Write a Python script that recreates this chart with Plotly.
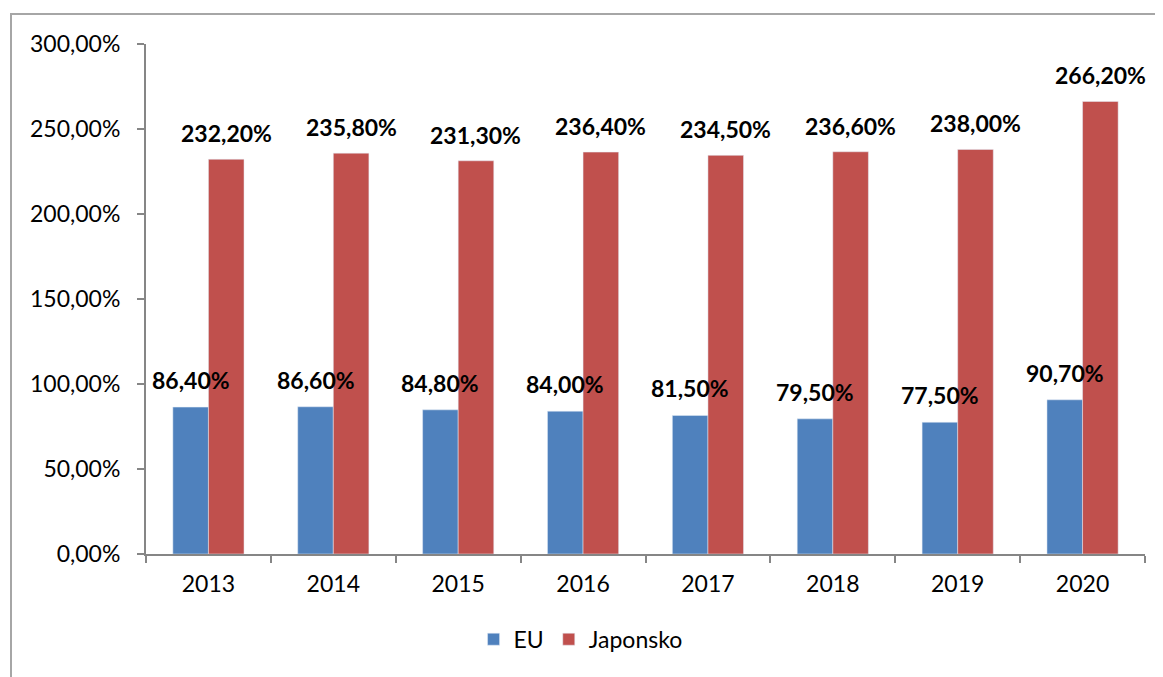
import plotly.graph_objects as go

years = ["2013", "2014", "2015", "2016", "2017", "2018", "2019", "2020"]
eu = [86.4, 86.6, 84.8, 84.0, 81.5, 79.5, 77.5, 90.7]
japonsko = [232.2, 235.8, 231.3, 236.4, 234.5, 236.6, 238.0, 266.2]

blue = "#4F81BD"
red = "#C0504D"
font = "Lato, Liberation Sans, Arial, sans-serif"


def fmt(v):
    return f"{v:.2f}".replace(".", ",") + "%"


fig = go.Figure()
fig.add_trace(go.Bar(x=years, y=eu, name="EU", marker_color=blue))
fig.add_trace(go.Bar(x=years, y=japonsko, name="Japonsko", marker_color=red))

# value labels as annotations so they sit on top of the neighbouring bar
# (category index used as x, numeric-looking strings confuse the category axis)
for i, v in enumerate(eu):
    fig.add_annotation(x=i, y=v, text=fmt(v), showarrow=False, xshift=-17.8,
                       yshift=27, yanchor="middle",
                       font=dict(family=font, size=23, color="black", weight="bold"))
for i, v in enumerate(japonsko):
    fig.add_annotation(x=i, y=v, text=fmt(v), showarrow=False, xshift=17.8,
                       yshift=26, yanchor="middle",
                       font=dict(family=font, size=23, color="black", weight="bold"))

# outer chart frame
fig.add_shape(type="rect", xref="paper", yref="paper",
              x0=(11 - 146) / 999, x1=1.05, y0=-0.3, y1=1 + 30 / 510,
              line=dict(color="#a6a6a6", width=2), layer="below")

# page body adds an 8px margin, so the figure is a bit smaller than the window
fig.update_layout(
    width=1155, height=669,
    margin=dict(l=138, r=18, t=36, b=123),
    paper_bgcolor="white", plot_bgcolor="white",
    separators=", ",
    barmode="group", bargap=0.43, bargroupgap=0,
    font=dict(family=font, size=23, color="black"),
    showlegend=True,
    legend=dict(orientation="h", x=0.435, xanchor="center", y=-0.125, yanchor="top",
                font=dict(family=font, size=23), itemwidth=30),
    xaxis=dict(type="category", range=[-0.5, len(years) - 0.5], showline=True,
               linecolor="#868686", linewidth=2,
               ticks="outside", tickson="boundaries", ticklen=7, tickcolor="#868686",
               tickwidth=2, tickfont=dict(size=23), showgrid=False, tickangle=0,
               ticklabelstandoff=8),
    yaxis=dict(range=[0, 300], dtick=50, tickformat=".2f", ticksuffix="%",
               showline=True, linecolor="#868686", linewidth=2, ticks="outside",
               ticklen=7, tickcolor="#868686", tickwidth=2, showgrid=False,
               zeroline=False, tickfont=dict(size=23), ticklabelstandoff=12),
)

fig.write_html("out.html")
